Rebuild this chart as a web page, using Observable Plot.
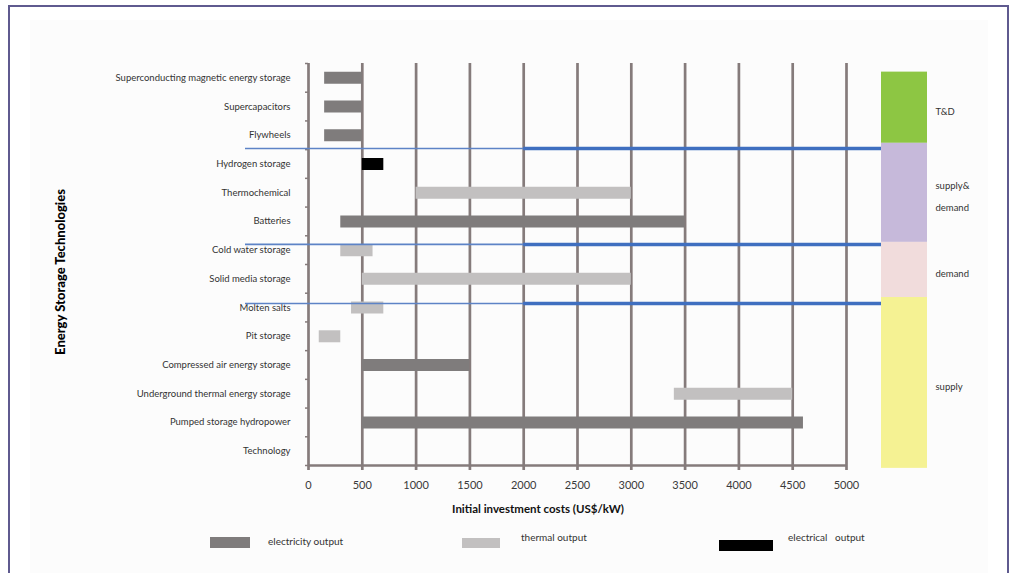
<!DOCTYPE html>
<html>
<head>
<meta charset="utf-8">
<script src="https://cdn.jsdelivr.net/npm/d3@7"></script>
<script src="https://cdn.jsdelivr.net/npm/@observablehq/plot@0.6"></script>
<style>
  body { margin: 0; background: #fff; font-family: Lato, "Open Sans", sans-serif; }
  #wrap { position: relative; width: 1013px; height: 573px; overflow: hidden; }
  .frame { position: absolute; left: 8px; top: 5px; width: 1001px; height: 620px; border: 2.5px solid #5f5a8f; border-bottom: none; box-sizing: border-box; }
  .panel { position: absolute; left: 30px; top: 20px; width: 958px; height: 600px; background: #fcfcfc; }
  #main, #band { position: absolute; top: 0; }
  #main { left: 0; }
  #band { left: 881px; }
  .ytitle { position: absolute; left: 60px; top: 272px; transform: translate(-50%, -50%) rotate(-90deg); font-weight: 900; font-size: 13px; color: #000; white-space: nowrap; }
  .xtitle { position: absolute; left: 538px; top: 508px; transform: translate(-50%, -50%); font-weight: 700; font-size: 11.5px; color: #111; white-space: nowrap; }
  .sw { position: absolute; }
  .lt { position: absolute; font-size: 10px; color: #333; white-space: pre; }
</style>
</head>
<body>
<div id="wrap">
  <div class="frame"></div>
  <div class="panel"></div>
  <div id="main"></div>
  <div id="band"></div>
  <div class="ytitle">Energy Storage Technologies</div>
  <div class="xtitle">Initial investment costs (US$/kW)</div>
  <div id="legend"></div>
</div>
<script>
// ---- data ----
const technologies = [
  "Superconducting magnetic energy storage",
  "Supercapacitors",
  "Flywheels",
  "Hydrogen storage",
  "Thermochemical",
  "Batteries",
  "Cold water storage",
  "Solid media storage",
  "Molten salts",
  "Pit storage",
  "Compressed air energy storage",
  "Underground thermal energy storage",
  "Pumped storage hydropower",
  "Technology"
];
const costLow  = [150, 150, 150, 500, 1000, 300, 300, 500, 400, 100, 500, 3400, 500, null];
const costHigh = [500, 500, 500, 700, 3000, 3500, 600, 3000, 700, 300, 1500, 4500, 4600, null];
const outputType = ["electricity output", "electricity output", "electricity output", "electrical output",
  "thermal output", "electricity output", "thermal output", "thermal output", "thermal output",
  "thermal output", "electricity output", "thermal output", "electricity output", null];
const outputTypes = ["electricity output", "thermal output", "electrical output"];
const outputColors = ["#7f7c7c", "#c2c0c0", "#000000"];
const xTicks = [0, 500, 1000, 1500, 2000, 2500, 3000, 3500, 4000, 4500, 5000];
const xMax = 5000;

// application groups (band on the right), in row units of the technology axis
const groupNames = ["T&D", "supply&\ndemand", "demand", "supply"];
const groupFrom = [-0.2, 2.28, 5.73, 7.65];
const groupTo = [2.28, 5.73, 7.65, 13.6];
const groupColors = ["#8dc643", "#c6b9da", "#f1dcdc", "#f5f293"];
// divider lines between groups
const dividers = [2.46, 5.8, 7.86];
const dividerThickFrom = 2000;

// ---- build ----
const rows = d3.range(technologies.length);
const bars = rows.filter(i => costLow[i] != null)
  .map(i => ({row: i, low: costLow[i], high: costHigh[i], type: outputType[i]}));
const groups = groupNames.map((g, i) => ({name: g, from: groupFrom[i], to: groupTo[i], mid: (groupFrom[i] + groupTo[i]) / 2}));
const yDomain = [-0.5, technologies.length - 0.5];
const gridColor = "#857b7b";

const main = Plot.plot({
  width: 1013, height: 573,
  marginLeft: 308, marginRight: 167, marginTop: 63, marginBottom: 108,
  style: {background: "transparent", fontFamily: "Lato, sans-serif", overflow: "visible"},
  x: {domain: [0, xMax]},
  y: {domain: yDomain, reverse: true},
  color: {domain: outputTypes, range: outputColors},
  marks: [
    Plot.ruleX(xTicks, {stroke: gridColor, strokeWidth: 2.7}),
    Plot.ruleY([yDomain[1]], {stroke: gridColor, strokeWidth: 2.7}),
    Plot.axisX({ticks: xTicks, tickSize: 5, tickPadding: 11, tickFormat: d => String(d), stroke: gridColor, strokeWidth: 2.7, fontSize: 11, color: "#3a3a3a", label: null}),
    Plot.axisY({ticks: rows, tickSize: 0, tickPadding: 18, tickFormat: i => technologies[i], fontSize: 9.5, color: "#333", label: null}),
    Plot.axisY({ticks: d3.range(yDomain[0], yDomain[1] + 0.01, 1), tickSize: 3, tickFormat: () => "", stroke: gridColor, strokeWidth: 1.5, label: null}),
    Plot.ruleY(bars, {y: "row", x1: "low", x2: "high", stroke: "type", strokeWidth: 12}),
    Plot.ruleY(dividers, {insetLeft: -63, insetRight: -35, stroke: "#5d83c6", strokeWidth: 1.6}),
    Plot.ruleY(dividers, {x1: () => dividerThickFrom, x2: () => xMax, insetRight: -35, stroke: "#3f6fc0", strokeWidth: 3.5})
  ]
});
document.getElementById("main").append(main);

const band = Plot.plot({
  width: 132, height: 573,
  marginLeft: 0, marginRight: 86, marginTop: 63, marginBottom: 108,
  style: {background: "transparent", fontFamily: "Lato, sans-serif", overflow: "visible"},
  x: {domain: [0, 1], axis: null},
  y: {domain: yDomain, reverse: true, axis: null},
  color: {domain: groupNames, range: groupColors},
  marks: [
    Plot.rect(groups, {y1: "from", y2: "to", fill: "name"}),
    Plot.text(groups, {y: "mid", text: "name", frameAnchor: "right", textAnchor: "start", dx: 8, fontSize: 9.5, fill: "#333", lineHeight: 2.3})
  ]
});
document.getElementById("band").append(band);

// legend
const legendPos = [
  {sx: 210, sy: 537, sw: 40, sh: 11, tx: 268, ty: 535},
  {sx: 462, sy: 538, sw: 38, sh: 10, tx: 521, ty: 531},
  {sx: 719, sy: 540, sw: 54, sh: 11, tx: 788, ty: 531}
];
const legendText = ["electricity output", "thermal output", "electrical   output"];
const lg = document.getElementById("legend");
outputTypes.forEach((t, i) => {
  const p = legendPos[i];
  const s = document.createElement("div");
  s.className = "sw";
  Object.assign(s.style, {left: p.sx + "px", top: p.sy + "px", width: p.sw + "px", height: p.sh + "px", background: outputColors[i]});
  lg.append(s);
  const l = document.createElement("div");
  l.className = "lt";
  Object.assign(l.style, {left: p.tx + "px", top: p.ty + "px"});
  l.textContent = legendText[i];
  lg.append(l);
});
</script>
</body>
</html>
